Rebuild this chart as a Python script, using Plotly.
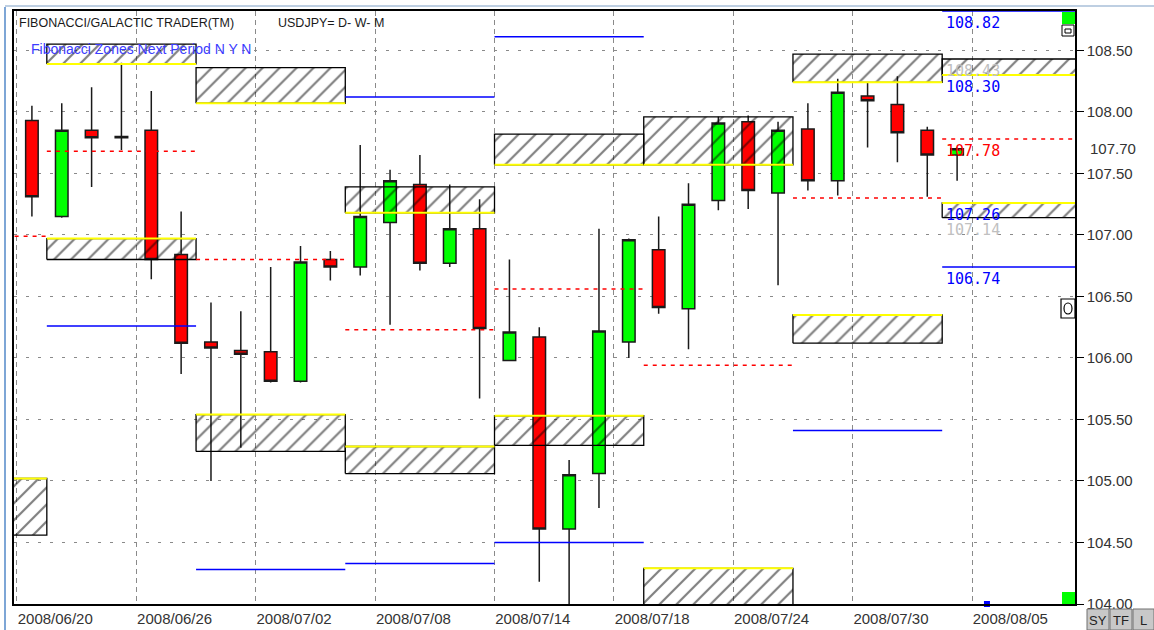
import plotly.graph_objects as go

# ---------------- data ----------------
bar_index = list(range(32))
open_ = [107.93, 107.15, 107.85, 107.79, 107.85, 106.84, 106.13, 106.06, 106.05, 105.81,
         106.80, 106.74, 107.10, 107.41, 106.77, 107.05, 105.98, 106.17, 104.61, 105.06,
         106.13, 106.88, 106.40, 107.28, 107.92, 107.34, 107.86, 107.44, 108.13, 108.06,
         107.85, 107.65]
high = [108.05, 108.07, 108.20, 108.40, 108.17, 107.19, 106.45, 106.38, 106.74, 106.91,
        106.87, 107.73, 107.53, 107.65, 107.41, 107.29, 106.80, 106.25, 105.17, 107.05,
        106.97, 107.15, 107.42, 107.96, 107.97, 107.92, 108.07, 108.27, 108.24, 108.29,
        107.88, 107.71]
low = [107.15, 107.14, 107.39, 107.69, 106.64, 105.87, 105.00, 105.27, 105.80, 105.80,
       106.63, 106.67, 106.27, 106.71, 106.74, 105.67, 105.98, 104.18, 103.85, 104.78,
       106.00, 106.36, 106.07, 107.20, 107.21, 106.59, 107.36, 107.32, 107.71, 107.59,
       107.31, 107.44]
close = [107.31, 107.85, 107.79, 107.80, 106.80, 106.12, 106.08, 106.03, 105.81, 106.78,
         106.74, 107.15, 107.44, 106.77, 107.05, 106.24, 106.21, 104.61, 105.05, 106.22,
         106.96, 106.41, 107.25, 107.91, 107.36, 107.85, 107.44, 108.16, 108.09, 107.83,
         107.65, 107.70]

date_tick_bars = [0, 4, 8, 12, 16, 20, 24, 28, 32]
date_labels = ["2008/06/20", "2008/06/26", "2008/07/02", "2008/07/08", "2008/07/14",
               "2008/07/18", "2008/07/24", "2008/07/30", "2008/08/05"]
price_ticks = [104.0, 104.5, 105.0, 105.5, 106.0, 106.5, 107.0, 107.5, 108.0, 108.5]

# weekly Fibonacci zones (first bar of each period, 5 bars each)
period_first_bar = [-4, 1, 6, 11, 16, 21, 26, 31]
upper_top = [None, 108.55, 108.36, 107.39, 107.82, 107.96, 108.47, 108.43]
upper_bot = [None, 108.39, 108.07, 107.18, 107.57, 107.57, 108.24, 108.30]
lower_top = [105.02, 106.97, 105.54, 105.28, 105.53, 104.29, 106.35, 107.26]
lower_bot = [104.56, 106.80, 105.24, 105.06, 105.29, 103.90, 106.12, 107.14]
pivot_red = [106.99, 107.68, 106.80, 106.23, 106.56, 105.94, 107.30, 107.78]
blue_high = [None, None, None, 108.12, 108.61, None, None, 108.82]
blue_low = [None, 106.26, 104.28, 104.33, 104.50, None, 105.41, 106.74]

next_bar = 32  # 2008/08/05 marker

title_text = "FIBONACCI/GALACTIC TRADER(TM)"
symbol_text = "USDJPY= D- W- M"
sub_text = "Fibonacci Zones Next Period N Y N"

# ---------------- figure ----------------
W, H = 1154, 630
ML, MR, MT, MB = 14, 79, 11, 26


def pxx(x):
    return (x - ML) / (W - ML - MR)


def pxy(y):
    return (H - MB - y) / (H - MT - MB)


fig = go.Figure()

# zones
for i, fb in enumerate(period_first_bar):
    x0, x1 = fb - 0.5, fb + 4.5
    for top, bot, edge in ((upper_top[i], upper_bot[i], "bot"),
                           (lower_top[i], lower_bot[i], "top")):
        if top is None:
            continue
        fig.add_trace(go.Scatter(
            x=[x0, x1, x1, x0, x0], y=[bot, bot, top, top, bot],
            mode="lines", fill="toself", fillcolor="rgba(255,255,255,0)",
            fillpattern=dict(shape="/", fgcolor="#000000", bgcolor="rgba(255,255,255,0)",
                             size=12, solidity=0.18),
            line=dict(color="#000000", width=1.3), hoverinfo="skip", showlegend=False))
        yl = bot if edge == "bot" else top
        fig.add_trace(go.Scatter(x=[x0, x1], y=[yl, yl], mode="lines",
                                 line=dict(color="#ffff00", width=2),
                                 hoverinfo="skip", showlegend=False))

# candles
fig.add_trace(go.Candlestick(
    x=bar_index, open=open_, high=high, low=low, close=close,
    increasing=dict(line=dict(color="#1a1a1a", width=1.5), fillcolor="#00ff00"),
    decreasing=dict(line=dict(color="#1a1a1a", width=1.5), fillcolor="#ff0000"),
    whiskerwidth=0, showlegend=False))

# pivot / target lines
for i, fb in enumerate(period_first_bar):
    x0, x1 = fb - 0.5, fb + 4.5
    fig.add_trace(go.Scatter(x=[x0, x1], y=[pivot_red[i]] * 2, mode="lines",
                             line=dict(color="#ff0000", width=1.5, dash="4px,5px"),
                             hoverinfo="skip", showlegend=False))
    for v in (blue_high[i], blue_low[i]):
        if v is None:
            continue
        fig.add_trace(go.Scatter(x=[x0, x1], y=[v, v], mode="lines",
                                 line=dict(color="#0000ff", width=1.5),
                                 hoverinfo="skip", showlegend=False))

# next bar marker
fig.add_trace(go.Scatter(x=[next_bar], y=[104.0], mode="markers", cliponaxis=False,
                         marker=dict(symbol="square", size=6, color="#0000ff"),
                         hoverinfo="skip", showlegend=False))

# value labels for the next period
last = len(period_first_bar) - 1
lab_x = period_first_bar[last] - 0.45
labels = [
    (blue_high[last], "#0000ff"),
    (upper_top[last], "#c0c0c0"),
    (upper_bot[last], "#0000ff"),
    (pivot_red[last], "#ff0000"),
    (lower_top[last], "#0000ff"),
    (lower_bot[last], "#c0c0c0"),
    (blue_low[last], "#0000ff"),
]
annotations = []
for v, c in labels:
    annotations.append(dict(x=lab_x, y=v, xref="x", yref="y", text=f"{v:.2f}",
                            showarrow=False, xanchor="left", yanchor="top", yshift=-1,
                            font=dict(family="DejaVu Sans Mono", size=15, color=c)))

annotations += [
    dict(x=pxx(17), y=pxy(23), xref="paper", yref="paper", text=title_text, showarrow=False,
         xanchor="left", yanchor="middle",
         font=dict(family="Liberation Sans, Arial", size=12.5, color="#1a1a1a")),
    dict(x=pxx(276), y=pxy(23), xref="paper", yref="paper", text=symbol_text, showarrow=False,
         xanchor="left", yanchor="middle",
         font=dict(family="Liberation Sans, Arial", size=12.5, color="#1a1a1a")),
    dict(x=pxx(29), y=pxy(49), xref="paper", yref="paper", text=sub_text, showarrow=False,
         xanchor="left", yanchor="middle",
         font=dict(family="Liberation Sans, Arial", size=14, color="#3c3cff")),
]

# UI decorations
shapes = [
    # window frame
    dict(type="line", xref="paper", yref="paper", x0=pxx(5), x1=pxx(5), y0=pxy(7), y1=pxy(630),
         line=dict(color="#7ea6d6", width=2)),
    dict(type="line", xref="paper", yref="paper", x0=pxx(5), x1=pxx(1154), y0=pxy(6), y1=pxy(6),
         line=dict(color="#a9bfd8", width=1.5)),
    # green squares
    dict(type="rect", xref="paper", yref="paper", x0=pxx(1062), x1=pxx(1075), y0=pxy(24), y1=pxy(12),
         fillcolor="#00ff00", line=dict(width=0)),
    dict(type="rect", xref="paper", yref="paper", x0=pxx(1062), x1=pxx(1075), y0=pxy(604), y1=pxy(592),
         fillcolor="#00ff00", line=dict(width=0)),
    # small icons
    dict(type="rect", xref="paper", yref="paper", x0=pxx(1062), x1=pxx(1074), y0=pxy(36), y1=pxy(25),
         fillcolor="#ffffff", line=dict(color="#000000", width=1)),
    dict(type="rect", xref="paper", yref="paper", x0=pxx(1065), x1=pxx(1071), y0=pxy(33), y1=pxy(29),
         fillcolor="#ffffff", line=dict(color="#000000", width=1)),
    dict(type="rect", xref="paper", yref="paper", x0=pxx(1061), x1=pxx(1075), y0=pxy(318), y1=pxy(299),
         fillcolor="#ffffff", line=dict(color="#000000", width=1.2)),
    dict(type="circle", xref="paper", yref="paper", x0=pxx(1064), x1=pxx(1072), y0=pxy(314), y1=pxy(303),
         line=dict(color="#000000", width=1.2)),
]
# SY / TF / L buttons
for x0, x1, t in ((1087, 1109, "SY"), (1110, 1132, "TF"), (1133, 1154, "L")):
    shapes.append(dict(type="rect", xref="paper", yref="paper", x0=pxx(x0), x1=pxx(x1),
                       y0=pxy(630), y1=pxy(609), fillcolor="#c8c8c8",
                       line=dict(color="#707070", width=1)))
    annotations.append(dict(x=pxx((x0 + x1) / 2), y=pxy(620), xref="paper", yref="paper", text=t,
                            showarrow=False, xanchor="center", yanchor="middle",
                            font=dict(family="Liberation Sans, Arial", size=13, color="#222222")))

axis_font = dict(family="Liberation Sans, Arial", size=15, color="#333333")

fig.update_layout(
    width=W, height=H, margin=dict(l=ML, r=MR, t=MT, b=MB, autoexpand=False),
    plot_bgcolor="#ffffff", paper_bgcolor="#ffffff", showlegend=False,
    boxgap=0.4, hovermode=False,
    xaxis=dict(range=[-0.6, 34.95], tickmode="array", automargin=False,
               tickvals=[b - 0.5 for b in date_tick_bars], ticktext=date_labels,
               ticklabelposition="outside right", ticks="", tickfont=axis_font,
               showgrid=True, gridcolor="#8a8a8a", griddash="5px,4px", gridwidth=1,
               showline=True, linecolor="#000000", linewidth=1.5, mirror=True,
               zeroline=False, rangeslider=dict(visible=False)),
    yaxis=dict(side="right", range=[104.0, 108.82], tickmode="array", automargin=False,
               tickvals=price_ticks, ticktext=[f"{v:.2f}" for v in price_ticks],
               ticks="outside", ticklen=7, tickcolor="#000000", tickfont=axis_font,
               showgrid=True, gridcolor="#8a8a8a", griddash="3px,9px", gridwidth=1,
               showline=True, linecolor="#000000", linewidth=1.5, mirror=True,
               zeroline=False),
    yaxis2=dict(side="right", overlaying="y", range=[104.0, 108.82], tickmode="array",
                automargin=False,
                tickvals=[close[-1]], ticktext=[f"{close[-1]:.2f}"],
                ticks="outside", ticklen=11, tickcolor="rgba(0,0,0,0)", tickfont=axis_font,
                showgrid=False, zeroline=False, showline=False),
    shapes=shapes, annotations=annotations,
)
# anchor trace for yaxis2 so it renders
fig.add_trace(go.Scatter(x=[None], y=[None], yaxis="y2", showlegend=False, hoverinfo="skip"))

fig.write_html("out.html", config={"displayModeBar": False},
               post_script="document.body.style.margin='0';document.body.style.overflow='hidden';")
